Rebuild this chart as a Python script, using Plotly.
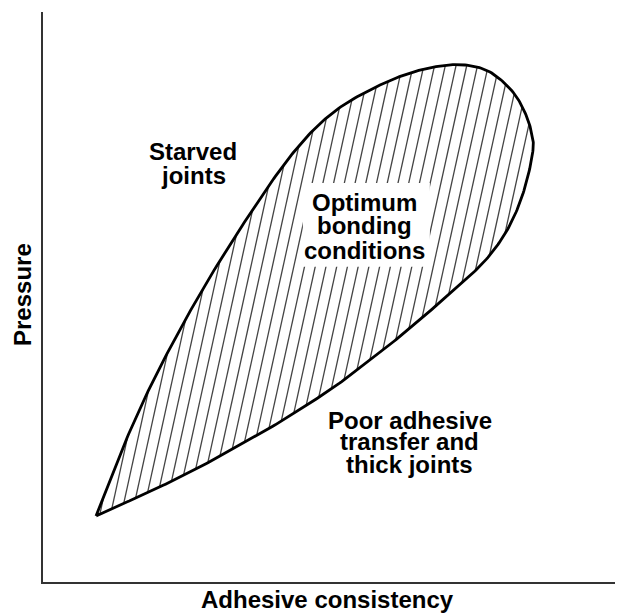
import numpy as np
import plotly.graph_objects as go

# Outline of the "optimum bonding conditions" region (adhesive consistency vs pressure, arbitrary units 0-100)
outline_x = [9.14, 12.07, 15.52, 19.31, 24.14, 28.79, 33.97, 39.14, 43.10, 47.41, 52.07, 58.10,
             63.28, 68.45, 72.76, 77.07, 81.03, 83.28, 84.31, 84.48, 83.45, 81.72, 79.31, 75.86,
             71.38, 66.72, 62.07, 56.38, 50.69, 46.03, 40.86, 34.83, 29.31, 23.62, 17.93, 13.28,
             9.14]
outline_y = [11.58, 19.30, 27.72, 35.96, 45.26, 53.51, 61.93, 69.82, 75.26, 80.09, 83.86, 87.19,
             89.30, 90.53, 90.70, 89.47, 85.96, 81.93, 78.42, 75.79, 70.53, 65.26, 60.53, 55.96,
             51.75, 47.54, 43.51, 38.95, 34.56, 31.40, 28.07, 24.56, 21.40, 18.42, 15.61, 13.51,
             11.58]

region_labels = ["Starved", "joints"]
optimum_labels = ["Optimum", "bonding", "conditions"]
poor_labels = ["Poor adhesive", "transfer and", "thick joints"]
x_title = "Adhesive consistency"
y_title = "Pressure"

FONT = "Arial, Liberation Sans, Helvetica, sans-serif"


def catmull_rom(xs, ys, n=14):
    P = np.column_stack([xs, ys]).astype(float)
    P = np.vstack([P[0], P, P[-1]])
    out = []
    for i in range(1, len(P) - 2):
        p0, p1, p2, p3 = P[i - 1], P[i], P[i + 1], P[i + 2]
        for t in np.linspace(0, 1, n, endpoint=False):
            t2, t3 = t * t, t * t * t
            out.append(0.5 * (2 * p1 + (-p0 + p2) * t + (2 * p0 - 5 * p1 + 4 * p2 - p3) * t2
                              + (-p0 + 3 * p1 - 3 * p2 + p3) * t3))
    out.append(P[-2])
    return np.array(out)


curve = catmull_rom(outline_x, outline_y)
cx, cy = curve[:, 0], curve[:, 1]

# hatch lines: slanted lines x = c + s*y, clipped to the outline
s = 0.216
spacing = 1.85
g = cx - s * cy
hx, hy = [], []
for c in np.arange(g.min() + 0.6, g.max(), spacing):
    f = g - c
    pts = []
    for i in range(len(cx) - 1):
        if (f[i] <= 0 < f[i + 1]) or (f[i + 1] <= 0 < f[i]):
            t = f[i] / (f[i] - f[i + 1])
            pts.append((cx[i] + t * (cx[i + 1] - cx[i]), cy[i] + t * (cy[i + 1] - cy[i])))
    pts.sort(key=lambda p: p[1])
    for j in range(0, len(pts) - 1, 2):
        hx += [pts[j][0], pts[j + 1][0], None]
        hy += [pts[j][1], pts[j + 1][1], None]

fig = go.Figure()
fig.add_trace(go.Scatter(x=hx, y=hy, mode="lines", line=dict(color="#444444", width=1.3),
                         hoverinfo="skip", showlegend=False))
fig.add_trace(go.Scatter(x=cx, y=cy, mode="lines", line=dict(color="black", width=2.8),
                         hoverinfo="skip", showlegend=False))

# white box behind the "Optimum bonding conditions" label
fig.add_shape(type="rect", x0=44.8, x1=66.7, y0=55.3, y1=70.0, xref="x", yref="y",
              fillcolor="white", line=dict(width=0), layer="above")

fs = 24
def add_lines(lines, xc, ymids):
    for txt, ym in zip(lines, ymids):
        fig.add_annotation(x=xc, y=ym, text=txt, showarrow=False, xanchor="center",
                           yanchor="middle", font=dict(family=FONT, size=fs, color="black",
                                                       weight="bold"))

add_lines(region_labels, 25.9, [75.6, 71.4])
add_lines(optimum_labels, 55.5, [66.5, 62.5, 58.1])
add_lines(poor_labels, 63.2, [28.4, 24.6, 20.7])

fig.add_annotation(x=0.491, y=0, xref="paper", yref="paper", yshift=-17, text=x_title,
                   showarrow=False, xanchor="center", yanchor="middle",
                   font=dict(family=FONT, size=fs, color="black", weight="bold"))
fig.add_annotation(x=0, y=0.5035, xref="paper", yref="paper", xshift=-21, text=y_title,
                   textangle=-90, showarrow=False, xanchor="center", yanchor="middle",
                   font=dict(family=FONT, size=fs, color="black", weight="bold"))

axis_common = dict(range=[0, 100], showgrid=False, zeroline=False, showticklabels=False,
                   ticks="", showline=True, linecolor="#333333", linewidth=2, fixedrange=True)
# the page body adds an 8px offset, so the figure is sized/margined to compensate
fig.update_layout(
    width=615, height=606,
    margin=dict(l=35, r=0, t=4, b=32),
    paper_bgcolor="white", plot_bgcolor="white",
    xaxis=axis_common, yaxis=axis_common,
    showlegend=False,
)
fig.write_html("out.html")
